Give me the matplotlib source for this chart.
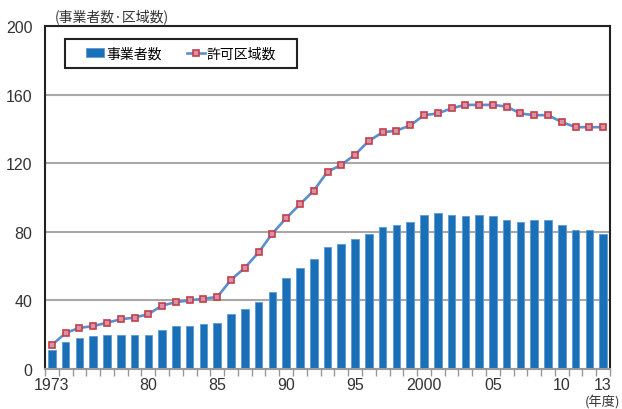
import matplotlib
matplotlib.use('Agg')
import matplotlib.pyplot as plt
from matplotlib.patches import Rectangle
import numpy as np

plt.rcParams['font.family'] = ['Noto Sans CJK JP', 'DejaVu Sans']

# data
years = list(range(1973, 2014))
operators = [11, 16, 18, 19, 20, 20, 20, 20, 23, 25,
             25, 26, 27, 32, 35, 39, 45, 53, 59, 64,
             71, 73, 76, 79, 83, 84, 86, 90, 91, 90,
             89, 90, 89, 87, 86, 87, 87, 84, 81, 81, 79]
areas = [14, 21, 24, 25, 27, 29, 30, 32, 37, 39,
         40, 41, 42, 52, 59, 68, 79, 88, 96, 104,
         115, 119, 125, 133, 138, 139, 142, 148, 149, 152,
         154, 154, 154, 153, 149, 148, 148, 144, 141, 141, 141]
tick_years = [1973, 1980, 1985, 1990, 1995, 2000, 2005, 2010, 2013]
tick_labels = ['1973', '80', '85', '90', '95', '2000', '05', '10', '13']

fig = plt.figure(figsize=(6.22, 4.10), dpi=100)
ax = fig.add_axes([45/622, 40/410, 565/622, 343/410])

bars = ax.bar(years, operators, width=0.55, color='#1b6fb6', edgecolor='#5b9ad6',
              linewidth=0.6, label='事業者数', zorder=2)
line, = ax.plot(years, areas, color='#5a8fd0', lw=1.9, marker='s', ms=4.3,
                mfc='#d891a8', mec='#c0404a', mew=1.2, label='許可区域数', zorder=3)

ax.set_xlim(1972.5, 2013.5)
ax.set_ylim(0, 200)
ax.set_yticks([0, 40, 80, 120, 160, 200])
ax.yaxis.grid(True, color='#a8a8a8', lw=1.5, zorder=1)
ax.tick_params(axis='y', length=0, labelsize=11.5, pad=9, colors='#333333')

ax.set_xticks(tick_years)
ax.set_xticklabels(tick_labels)
ax.set_xticks(np.arange(1972.5, 2014, 1), minor=True)
ax.tick_params(axis='x', which='major', length=0, labelsize=11.5, pad=6, colors='#333333')
ax.tick_params(axis='x', which='minor', length=5, color='#999999', width=1)
for lab in ax.get_xticklabels() + ax.get_yticklabels():
    lab.set_family(['Liberation Sans', 'DejaVu Sans'])

for s in ['left', 'top', 'right']:
    ax.spines[s].set_color('#222222')
    ax.spines[s].set_linewidth(1.5)
ax.spines['bottom'].set_color('#999999')
ax.spines['bottom'].set_linewidth(1.5)

# legend box drawn separately so it can be wider than its contents
ax.add_patch(Rectangle((0.0354, 0.8776), 0.4106, 0.0845, transform=ax.transAxes,
                       facecolor='white', edgecolor='#222222', lw=1.5, zorder=4))
leg = ax.legend([bars, line], ['事業者数', '許可区域数'], loc='center',
                bbox_to_anchor=(0.2407, 0.9198), ncol=2, fontsize=10, frameon=False,
                handlelength=1.3, handleheight=0.65, handletextpad=0.15,
                columnspacing=1.8, borderpad=0, borderaxespad=0)
leg.set_zorder(5)

fig.text(55/622, 1 - 17/410, '(事業者数·区域数)', fontsize=10, va='center', color='#333333')
fig.text(603/622, 1 - 403/410, '(年度)', fontsize=9.5, va='center', ha='center', color='#333333')

fig.savefig('out.png', dpi=100)
